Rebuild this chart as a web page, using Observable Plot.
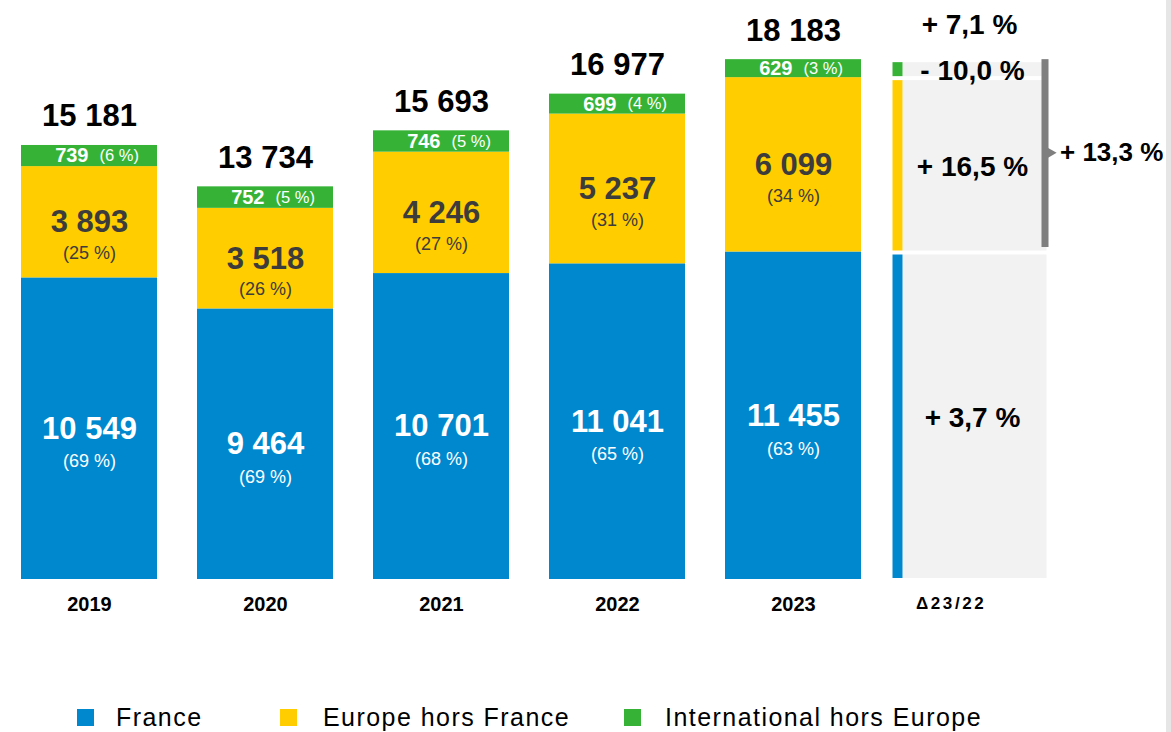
<!DOCTYPE html>
<html><head><meta charset="utf-8">
<script src="https://cdn.jsdelivr.net/npm/d3@7"></script>
<script src="https://cdn.jsdelivr.net/npm/@observablehq/plot@0.6"></script>
<style>
html,body{margin:0;padding:0;background:#fff;}
body{width:1171px;height:732px;position:relative;overflow:hidden;font-family:"Liberation Sans",Arial,sans-serif;}
#chart svg{display:block;}
#edge{position:absolute;right:0;top:0;width:5px;height:732px;background:#e6e6e6;}
#legend{position:absolute;top:704px;left:0;width:1100px;height:26px;}
.item{position:absolute;top:0;height:26px;display:flex;align-items:center;font-size:25px;letter-spacing:1.45px;color:#000;white-space:nowrap;}
.item:nth-child(1){left:77px;} .item:nth-child(1) .sw{margin-right:22px;}
.item:nth-child(2){left:280px;} .item:nth-child(2) .sw{margin-right:26px;}
.item:nth-child(3){left:624px;} .item:nth-child(3) .sw{margin-right:24px;}
.sw{width:17px;height:17px;flex:none;}
</style></head>
<body>
<div id="chart"></div>
<div id="legend"></div>
<div id="edge"></div>
<script>
// ---- data ----
const years = ["2019", "2020", "2021", "2022", "2023"];
const deltaLabel = "Δ23/22";
const regions = ["France", "Europe hors France", "International hors Europe"];
const colors = ["#0088ce", "#ffcd00", "#36b336"];
const france = [10549, 9464, 10701, 11041, 11455];
const europe = [3893, 3518, 4246, 5237, 6099];
const international = [739, 752, 746, 699, 629];
const totals = [15181, 13734, 15693, 16977, 18183];
const franceShare = [69, 69, 68, 65, 63];
const europeShare = [25, 26, 27, 31, 34];
const intlShare = [6, 5, 5, 4, 3];
const deltaSeg = ["+ 3,7 %", "+ 16,5 %", "- 10,0 %"]; // France, Europe, International
const deltaTotal = "+ 7,1 %";
const deltaNonFrance = "+ 13,3 %";

// ---- tables ----
const fmt = d3.formatLocale({decimal: ",", thousands: " ", grouping: [3], currency: ["", " €"]}).format(",d");
const series = [france, europe, international];
const shares = [franceShare, europeShare, intlShare];
const rows = [];
years.forEach((yr, i) => regions.forEach((r, k) =>
  rows.push({year: yr, region: r, k, value: series[k][i], share: shares[k][i]})));
const last = years.length - 1;
const deltaRows = regions.map((r, k) => ({year: deltaLabel, region: r, k, value: series[k][last], label: deltaSeg[k]}));
const bracket = [{x: deltaLabel, y1: france[last], y2: totals[last], mid: (france[last] + totals[last]) / 2, label: deltaNonFrance}];

const onlyK = (k, f) => d => d.k === k ? f(d) : "";

const chart = Plot.plot({
  width: 1171,
  height: 650,
  marginTop: 7.2,
  marginBottom: 71,
  marginLeft: 20,
  marginRight: 132.5,
  style: {fontFamily: "'Liberation Sans', Arial, sans-serif", background: "white"},
  x: {domain: [...years, deltaLabel], paddingInner: 0.2295, paddingOuter: 0, axis: null},
  y: {domain: [0, 20000], axis: null},
  color: {domain: regions, range: colors},
  marks: [
    // stacked bars
    Plot.barY(rows, {x: "year", y: "value", z: "region", fill: "region"}),
    // delta column: grey boxes and colored strips
    Plot.barY(deltaRows, {x: "year", y: "value", z: "region", fill: "#f2f2f2", insetLeft: 1.5, insetRight: -9.5, insetTop: 3, insetBottom: 1}),
    Plot.barY(deltaRows, {x: "year", y: "value", z: "region", fill: "region", insetLeft: -8.5, insetRight: 134.5, insetTop: 3, insetBottom: 1}),
    // bracket for Europe + International
    Plot.barY(bracket, {x: "x", y1: "y1", y2: "y2", fill: "#7f7f7f", insetLeft: 140.5, insetRight: -11.5, insetBottom: 4.5}),
    Plot.dot(bracket, {x: "x", y: "mid", symbol: "triangle", rotate: 90, r: 4.6, fill: "#7f7f7f", dx: 80, dy: -3}),
    Plot.text(bracket, {x: "x", y: "mid", text: "label", textAnchor: "start", dx: 90.5, dy: -3, fontSize: 26, fontWeight: "bold", fill: "black"}),
    // France labels
    Plot.text(rows, Plot.stackY({x: "year", y: "value", z: "region", text: onlyK(0, d => fmt(d.value)), fill: "white", fontSize: 31, fontWeight: "bold", dy: 0})),
    Plot.text(rows, Plot.stackY({x: "year", y: "value", z: "region", text: onlyK(0, d => `(${d.share} %)`), fill: "white", fontSize: 18, dy: 33})),
    // Europe labels
    Plot.text(rows, Plot.stackY({x: "year", y: "value", z: "region", text: onlyK(1, d => fmt(d.value)), fill: "#3c3c3c", fontSize: 31, fontWeight: "bold", dy: 0})),
    Plot.text(rows, Plot.stackY({x: "year", y: "value", z: "region", text: onlyK(1, d => `(${d.share} %)`), fill: "#3c3c3c", fontSize: 18, dy: 31})),
    // International labels
    Plot.text(rows, Plot.stackY({x: "year", y: "value", z: "region", text: onlyK(2, d => fmt(d.value)), fill: "white", fontSize: 20, fontWeight: "bold", textAnchor: "end", dx: -1})),
    Plot.text(rows, Plot.stackY({x: "year", y: "value", z: "region", text: onlyK(2, d => `(${d.share} %)`), fill: "white", fontSize: 16.5, textAnchor: "start", dx: 10})),
    // totals
    Plot.text(years, {x: d => d, y: (d, i) => totals[i], text: (d, i) => fmt(totals[i]), dy: -29, fontSize: 31, fontWeight: "bold", fill: "black"}),
    // delta labels
    Plot.text(deltaRows, Plot.stackY({x: "year", y: "value", z: "region", text: "label", fontSize: 28, fontWeight: "bold", fill: "black", dx: 3, dy: 2})),
    Plot.text([deltaTotal], {x: () => deltaLabel, y: () => totals[last], text: d => d, dy: -35, fontSize: 28, fontWeight: "bold", fill: "black"}),
    // category labels
    Plot.text(years, {x: d => d, frameAnchor: "bottom", dy: 31, fontSize: 20, fontWeight: "bold", fill: "black"}),
    Plot.text([deltaLabel], {x: d => d, frameAnchor: "bottom", dy: 29, textAnchor: "start", dx: -53.5, fontSize: 17, fontWeight: "bold", fill: "black"})
  ]
});
d3.select(chart).selectAll("text").filter(function() { return this.textContent === deltaLabel; }).style("letter-spacing", "2.6px");
document.getElementById("chart").appendChild(chart);

// legend
const legend = document.getElementById("legend");
regions.forEach((r, k) => {
  const item = document.createElement("div");
  item.className = "item";
  const sw = document.createElement("span");
  sw.className = "sw";
  sw.style.background = colors[k];
  const lab = document.createElement("span");
  lab.textContent = r;
  item.appendChild(sw);
  item.appendChild(lab);
  legend.appendChild(item);
});
</script>
</body></html>
